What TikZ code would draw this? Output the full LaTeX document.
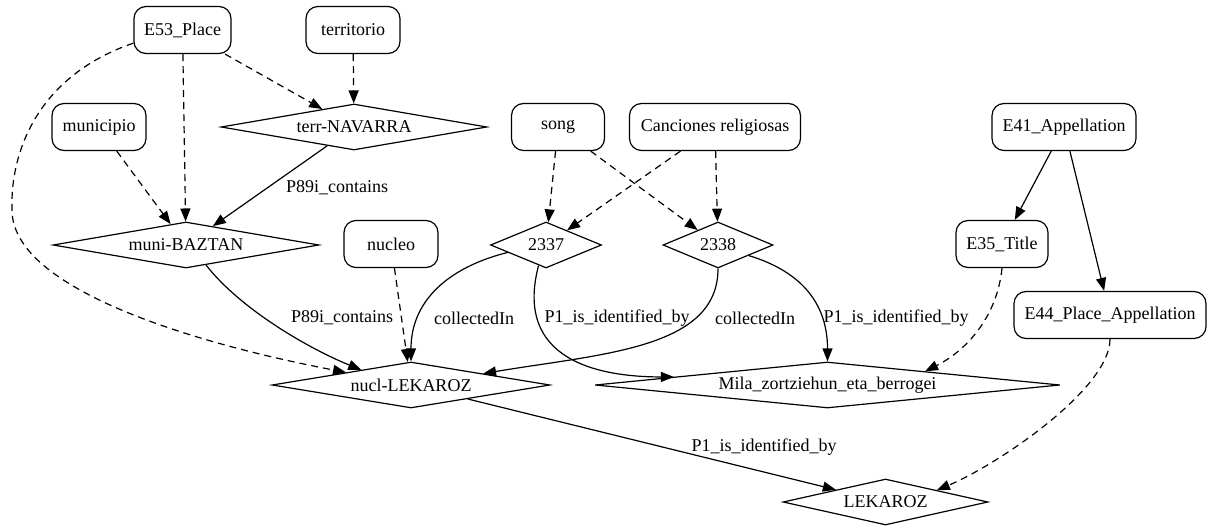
\documentclass[tikz,border=0pt]{standalone}
\usepackage{fontspec}
\setmainfont{Liberation Serif}
\usetikzlibrary{shapes.geometric,arrows.meta}
\begin{document}
\begin{tikzpicture}[x=1pt,y=-1pt,line width=1.2pt,
  cls/.style={draw,rounded corners=12pt,minimum height=47pt,inner sep=0pt},
  inst/.style={diamond,draw,inner sep=0pt,minimum height=46pt,aspect=#1},
  inst/.default=5,
  prop/.style={-{Triangle[length=13pt,width=10pt]}},
  isa/.style={prop,dash pattern=on 7pt off 5pt},
  lbl/.style={inner sep=0pt}]
\fontsize{18}{21}\selectfont
\useasboundingbox (0,0) rectangle (1209,526);
%% classes
\node[cls,minimum width=97pt] (place) at (182.5,30) {E53\_Place};
\node[cls,minimum width=94pt] (territorio) at (353,30) {territorio};
\node[cls,minimum width=94pt] (municipio) at (99,127) {municipio};
\node[cls,minimum width=93pt] (song) at (558,127) {song};
\node[cls,minimum width=171pt] (canciones) at (715,127) {Canciones religiosas};
\node[cls,minimum width=144pt] (appel) at (1064,127) {E41\_Appellation};
\node[cls,minimum width=94pt] (nucleo) at (391,244) {nucleo};
\node[cls,minimum width=92pt] (title) at (1002,244) {E35\_Title};
\node[cls,minimum width=192pt] (placeappel) at (1110,315) {E44\_Place\_Appellation};
%% instances
\node[inst=5.66,minimum width=266pt] (terr) at (354,127) {terr-NAVARRA};
\node[inst=5.66,minimum width=266pt] (muni) at (186,245) {muni-BAZTAN};
\node[inst=2.4,minimum width=111pt] (s2337) at (546,245) {2337};
\node[inst=2.4,minimum width=110pt] (s2338) at (718,245) {2338};
\node[inst=6,minimum width=278pt] (nucl) at (411,385) {nucl-LEKAROZ};
\node[inst=10.1,minimum width=465pt] (mila) at (827.5,385) {Mila\_zortziehun\_eta\_berrogei};
\node[inst=4.45,minimum width=205pt] (lekaroz) at (885.5,502) {LEKAROZ};
%% types
\draw[isa] (place) -- (terr);
\draw[isa] (territorio) -- (terr);
\draw[isa] (place) -- (muni);
\draw[isa] (municipio) -- (muni);
\draw[isa] (nucleo) -- (nucl);
\draw[isa] (song) -- (s2337);
\draw[isa] (canciones) -- (s2337);
\draw[isa] (song) -- (s2338);
\draw[isa] (canciones) -- (s2338);
\draw[isa] (place.195) .. controls +(-94,32) and +(-2,-60) .. (12,210)
  .. controls +(0,80) and +(-147,-28) .. (nucl.169);
\draw[isa] (title.south) .. controls +(-5,50) and +(40,-20) .. (mila.8);
\draw[isa] (placeappel.south) .. controls +(0,50) and +(60,-25) .. (lekaroz.13);
%% properties
\draw[prop] (terr) -- (muni);
\draw[prop] (appel) -- (title);
\draw[prop] (appel) -- (placeappel);
\draw[prop] (nucl) -- (lekaroz);
\draw[prop] (muni.-45) .. controls +(35,45) and +(-50,-20) .. (nucl.163);
\draw[prop] (s2337.191) .. controls +(-60,15) and +(0,-60) .. (nucl.north);
\draw[prop] (s2337.-110) .. controls +(-25,95) and +(-75,0) .. (mila.177);
\draw[prop] (s2338.south) .. controls +(0,80) and +(120,-20) .. (nucl.9);
\draw[prop] (s2338.-19) .. controls +(50,15) and +(0,-60) .. (mila.north);
%% labels
\node[lbl] (lterr) at (337,188) {P89i\_contains};
\node[lbl] (lmuni) at (342,318) {P89i\_contains};
\node[lbl] (lcol1) at (474,318) {collectedIn};
\node[lbl] (lid1) at (617,318) {P1\_is\_identified\_by};
\node[lbl] (lcol2) at (755,318) {collectedIn};
\node[lbl] (lid2) at (896,318) {P1\_is\_identified\_by};
\node[lbl] (lnucl) at (764,447) {P1\_is\_identified\_by};
\end{tikzpicture}
\end{document}
